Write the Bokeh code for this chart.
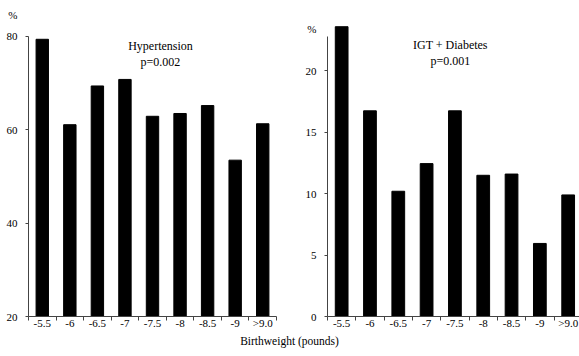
from bokeh.plotting import figure
from bokeh.models import Range1d, FixedTicker, Label, Div, LinearAxis
from bokeh.layouts import row, column
from bokeh.embed import file_html
from bokeh.resources import INLINE

categories = ["-5.5", "-6", "-6.5", "-7", "-7.5", "-8", "-8.5", "-9", ">9.0"]
hypertension = [79.4, 61.1, 69.4, 70.8, 62.9, 63.5, 65.2, 53.5, 61.3]
igt_diabetes = [23.6, 16.75, 10.2, 12.45, 16.75, 11.5, 11.6, 5.95, 9.9]
left_yticks = [20, 40, 60, 80]
right_yticks = [0, 5, 10, 15, 20]

FONT = "Liberation Serif"
AXIS_COLOR = "#444444"
xs = list(range(1, len(categories) + 1))
bounds = [i + 0.5 for i in range(0, len(categories) + 1)]


def style(p, yticks, ybounds, pct_y):
    p.xgrid.visible = False
    p.ygrid.visible = False
    p.outline_line_color = None
    p.background_fill_color = "white"
    p.border_fill_color = "white"
    ax = p.xaxis[0]
    ax.ticker = FixedTicker(ticks=xs, minor_ticks=bounds)
    ax.major_label_overrides = {x: c for x, c in zip(xs, categories)}
    ax.major_tick_out = 0
    ax.major_tick_in = 0
    ax.minor_tick_out = 4
    ax.minor_tick_in = 0
    ax.minor_tick_line_color = AXIS_COLOR
    ax.axis_line_color = AXIS_COLOR
    ax.major_label_standoff = -4
    ax.major_label_text_font = FONT
    ax.major_label_text_font_size = "11px"
    ax.major_label_text_color = "black"
    # inner y axis: line and tick marks only (tick marks as unlabeled minor ticks)
    ay = p.yaxis[0]
    ay.ticker = FixedTicker(ticks=[], minor_ticks=yticks)
    ay.bounds = ybounds
    ay.major_tick_out = 0
    ay.major_tick_in = 0
    ay.minor_tick_out = 3
    ay.minor_tick_in = 0
    ay.minor_tick_line_color = AXIS_COLOR
    ay.axis_line_color = AXIS_COLOR
    ay.major_label_standoff = 0
    # outer y axis: tick labels plus the "%" unit
    lab = LinearAxis(ticker=FixedTicker(ticks=yticks + [pct_y], minor_ticks=[]),
                     major_label_overrides={pct_y: "%"},
                     axis_line_color=None, major_tick_line_color=None,
                     major_tick_out=0, major_tick_in=0, minor_tick_out=0, minor_tick_in=0,
                     major_label_standoff=8, major_label_text_font=FONT,
                     major_label_text_font_size="11px", major_label_text_color="black")
    p.add_layout(lab, "left")


def add_text(p, x, y, t, size):
    p.add_layout(Label(x=x, y=y, text=t, text_font=FONT, text_font_size=size,
                       text_align="center", text_baseline="middle", text_color="black"))


p1 = figure(width=300, height=338, x_range=Range1d(0.5, 9.5), y_range=Range1d(20, 85.57),
            output_backend="svg", toolbar_location=None,
            min_border_left=28, min_border_right=24, min_border_top=10, min_border_bottom=22)
p1.vbar(x=xs, top=hypertension, bottom=20, width=0.45, fill_color="black", line_color="black")
style(p1, left_yticks, (20, 80), 84.7)
add_text(p1, 5.29, 78.07, "Hypertension", "12px")
add_text(p1, 5.29, 74.64, "p=0.002", "12px")

p2 = figure(width=279, height=338, x_range=Range1d(0.5, 9.4), y_range=Range1d(0, 24.92),
            output_backend="svg", toolbar_location=None,
            min_border_left=27, min_border_right=0, min_border_top=10, min_border_bottom=22)
p2.vbar(x=xs, top=igt_diabetes, bottom=0, width=0.45, fill_color="black", line_color="black")
style(p2, right_yticks, (0, 22.8), 23.45)
add_text(p2, 4.84, 22.07, "IGT + Diabetes", "12px")
add_text(p2, 4.84, 20.77, "p=0.001", "12px")

xlabel = Div(text="Birthweight (pounds)", width=579, height=14, margin=(-4, 0, 0, 0),
             styles={"text-align": "center", "font-family": FONT, "font-size": "11.5px",
                     "color": "black", "line-height": "14px", "width": "579px"})

layout = column(row(p1, p2, spacing=0), xlabel, spacing=0)
open("out.html", "w").write(file_html(layout, INLINE))
